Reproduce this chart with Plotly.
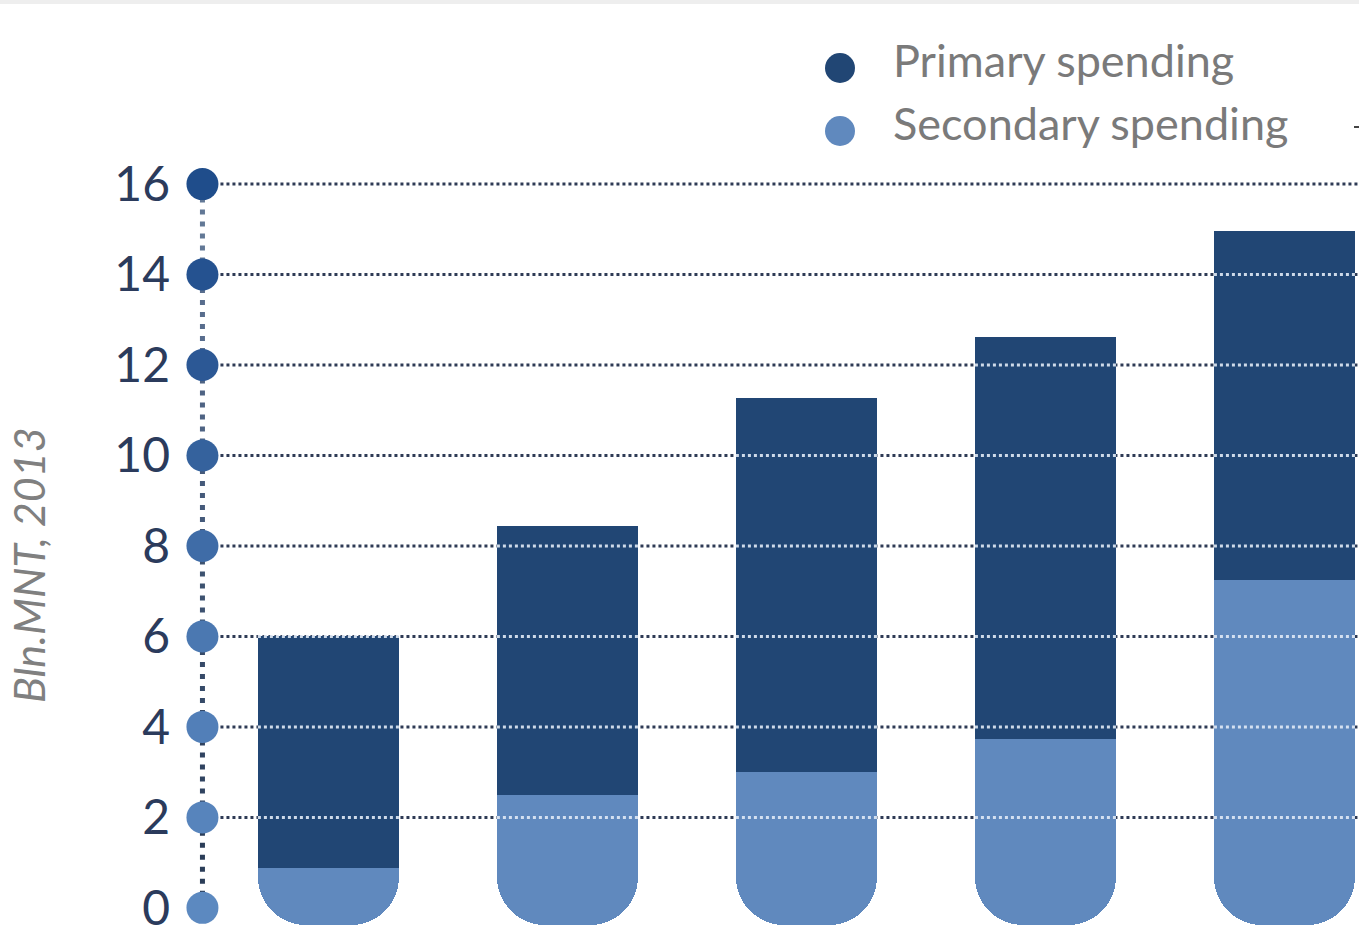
import plotly.graph_objects as go

# ---- data ----
bar_positions = [0, 1, 2, 3, 4]
secondary_spending = [0.88, 2.50, 3.00, 3.73, 7.25]
primary_spending = [5.13, 5.95, 8.27, 8.89, 7.71]
tick_values = [0, 2, 4, 6, 8, 10, 12, 14, 16]
tick_labels = ["0", "2", "4", "6", "8", "10", "12", "14", "16"]
series_names = ["Primary spending", "Secondary spending"]
axis_title = "Bln.MNT, 2013"

# ---- style ----
PRIMARY = "#214674"
SECONDARY = "#6089be"
GRID = "#2e3b55"
BAR_W = 0.59
EXT = 0.375          # rounded cap reaches this far below zero
RADIUS_PX = 48
PX_PER_UNIT = 769 / 17.0
R_UNITS = RADIUS_PX / PX_PER_UNIT
AXIS_X = -0.527
X_RANGE = [-0.6, 4.312]
Y_RANGE = [-0.6, 16.4]
FONT = "Lato"

dot_colors = ["#5c89c0", "#5784bc", "#527fb8", "#4b78b1", "#3f6ca7",
              "#35629d", "#2c5895", "#255290", "#1f4d8b"]          # 0 -> 16
seg_colors = ["#2b3d58", "#304360", "#364a68", "#3d5270", "#455a7a",
              "#4e6383", "#586d8d", "#627896"]                       # bottom -> top

fig = go.Figure()

# rounded bottom cap (same colour as secondary), hidden above by the stack
cap_base = -EXT
fig.add_trace(go.Bar(
    x=bar_positions, base=[cap_base] * len(bar_positions),
    y=[2 * R_UNITS + 0.1] * len(bar_positions),
    width=BAR_W, marker=dict(color=SECONDARY, cornerradius=RADIUS_PX, line_width=0),
    showlegend=False, hoverinfo="skip"))
# secondary spending (square part, continues from the cap up to its value)
sec_base = cap_base + R_UNITS
fig.add_trace(go.Bar(
    x=bar_positions, base=[sec_base] * len(bar_positions),
    y=[s - sec_base for s in secondary_spending],
    width=BAR_W, marker=dict(color=SECONDARY, line_width=0),
    name=series_names[1], showlegend=False, hoverinfo="skip"))
# primary spending stacked on top
fig.add_trace(go.Bar(
    x=bar_positions, base=secondary_spending, y=primary_spending,
    width=BAR_W, marker=dict(color=PRIMARY, line_width=0),
    name=series_names[0], showlegend=False, hoverinfo="skip"))

# vertical dotted connector of axis dots
for i in range(len(tick_values) - 1):
    fig.add_trace(go.Scatter(
        x=[AXIS_X, AXIS_X], y=[tick_values[i], tick_values[i + 1]],
        mode="lines", line=dict(color=seg_colors[i], width=5, dash="5px,7px"),
        showlegend=False, hoverinfo="skip", cliponaxis=False))

# axis dots
fig.add_trace(go.Scatter(
    x=[AXIS_X] * len(tick_values), y=tick_values, mode="markers",
    marker=dict(size=32, color=dot_colors, line_width=0),
    showlegend=False, hoverinfo="skip", cliponaxis=False))

shapes = []
# dark dotted gridlines (under bars)
for t in tick_values[1:]:
    shapes.append(dict(type="line", xref="x", yref="y", x0=AXIS_X, x1=X_RANGE[1],
                       y0=t, y1=t, layer="below",
                       line=dict(color=GRID, width=3, dash="dot")))
# light dotted gridlines over bars
for i, p in enumerate(bar_positions):
    top = secondary_spending[i] + primary_spending[i]
    for t in tick_values[1:]:
        if t <= top + 0.05:
            shapes.append(dict(type="line", xref="x", yref="y",
                               x0=p - BAR_W / 2, x1=p + BAR_W / 2, y0=t, y1=t,
                               layer="above",
                               line=dict(color="rgba(225,234,246,0.9)", width=3, dash="dot")))
# top gray band
shapes.append(dict(type="rect", xref="paper", yref="paper", x0=-1, x1=2,
                   y0=1 + 166 / 769 - 4 / 769, y1=1 + 166 / 769 + 0.01,
                   fillcolor="#eeeeee", line_width=0, layer="above"))
# small cut-off mark at the right edge
shapes.append(dict(type="line", xref="paper", yref="paper",
                   x0=(1354 - 185) / 1174, x1=(1360 - 185) / 1174,
                   y0=1 + (166 - 127) / 769, y1=1 + (166 - 127) / 769,
                   line=dict(color="#444444", width=2)))
# legend markers
legend_y = [68, 131]
legend_colors = [PRIMARY, SECONDARY]
for yy, c in zip(legend_y, legend_colors):
    yp = 1 + (166 - yy) / 769
    shapes.append(dict(type="circle", xref="paper", yref="paper",
                       xsizemode="pixel", ysizemode="pixel",
                       xanchor=(840 - 185) / 1174, yanchor=yp,
                       x0=-15, x1=15, y0=-15, y1=15,
                       fillcolor=c, line_width=0))

annotations = []
for name, yy in zip(series_names, [60, 123]):
    annotations.append(dict(
        text=name, xref="paper", yref="paper",
        x=(891 - 185) / 1174, y=1 + (166 - yy) / 769,
        xanchor="left", yanchor="middle", showarrow=False,
        font=dict(family=FONT, size=45, color="#7a7a7a")))
annotations.append(dict(
    text="<i>" + axis_title + "</i>", xref="paper", yref="paper",
    x=(28 - 185) / 1174, y=(951 - 16 - 565) / 769,
    xanchor="center", yanchor="middle", textangle=-90, showarrow=False,
    font=dict(family=FONT, size=43, color="#808080")))

fig.update_layout(
    width=1359, height=951,
    margin=dict(l=185, r=0, t=166, b=16, autoexpand=False),
    paper_bgcolor="white", plot_bgcolor="white",
    barmode="overlay", bargap=0,
    shapes=shapes, annotations=annotations, showlegend=False,
    xaxis=dict(range=X_RANGE, visible=False, fixedrange=True),
    yaxis=dict(range=Y_RANGE, tickvals=tick_values, ticktext=tick_labels,
               showgrid=False, zeroline=False, showline=False, ticks="",
               ticklabelstandoff=14,
               tickfont=dict(family=FONT, size=48, color="#2b3b5c")),
)

fig.write_html("out.html")
